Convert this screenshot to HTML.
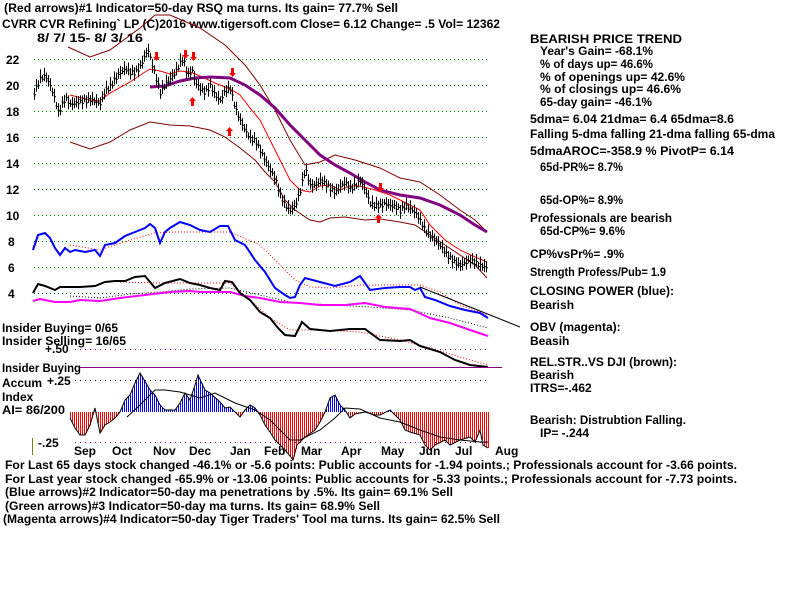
<!DOCTYPE html>
<html><head><meta charset="utf-8"><style>
html,body{margin:0;padding:0;background:#fff;width:800px;height:600px;overflow:hidden}
svg text{font-family:"Liberation Sans",sans-serif;font-weight:bold;font-size:12px;fill:#000}
</style></head><body>
<svg id="s" width="800" height="600" xmlns="http://www.w3.org/2000/svg">
<g id="grid" stroke="#008000" stroke-dasharray="1,3" stroke-width="1"></g>
<text x="4" y="12" textLength="394" lengthAdjust="spacingAndGlyphs">(Red arrows)#1 Indicator=50-day RSQ ma turns.  Its gain= 77.7% Sell</text>
<text x="2" y="28" textLength="498" lengthAdjust="spacingAndGlyphs">CVRR   CVR Refining` LP   (C)2016 www.tigersoft.com     Close=  6.12  Change= .5 Vol= 12362</text>
<text x="37" y="42" textLength="106" lengthAdjust="spacingAndGlyphs">8/ 7/ 15- 8/ 3/ 16</text>
<g id="yl"></g>
<g id="plot"></g>
<g font-size="12">
<text x="530" y="43" textLength="152" lengthAdjust="spacingAndGlyphs">BEARISH PRICE TREND</text>
<text x="540" y="55" textLength="113" lengthAdjust="spacingAndGlyphs">Year's Gain= -68.1%</text>
<text x="540" y="68" textLength="113" lengthAdjust="spacingAndGlyphs">% of days up= 46.6%</text>
<text x="540" y="81" textLength="145" lengthAdjust="spacingAndGlyphs">% of openings up= 42.6%</text>
<text x="540" y="93" textLength="141" lengthAdjust="spacingAndGlyphs">% of closings up= 46.6%</text>
<text x="540" y="106" textLength="112" lengthAdjust="spacingAndGlyphs">65-day gain= -46.1%</text>
<text x="530" y="123" textLength="204" lengthAdjust="spacingAndGlyphs">5dma= 6.04 21dma= 6.4 65dma=8.6</text>
<text x="530" y="138" textLength="245" lengthAdjust="spacingAndGlyphs">Falling 5-dma  falling 21-dma  falling 65-dma</text>
<text x="530" y="155" textLength="204" lengthAdjust="spacingAndGlyphs">5dmaAROC=-358.9 %  PivotP= 6.14</text>
<text x="540" y="171" textLength="83" lengthAdjust="spacingAndGlyphs">65d-PR%= 8.7%</text>
<text x="540" y="204" textLength="83" lengthAdjust="spacingAndGlyphs">65d-OP%= 8.9%</text>
<text x="530" y="222" textLength="142" lengthAdjust="spacingAndGlyphs">Professionals are bearish</text>
<text x="540" y="235" textLength="85" lengthAdjust="spacingAndGlyphs">65d-CP%= 9.6%</text>
<text x="530" y="258" textLength="94" lengthAdjust="spacingAndGlyphs">CP%vsPr%=  .9%</text>
<text x="530" y="276" textLength="136" lengthAdjust="spacingAndGlyphs">Strength Profess/Pub= 1.9</text>
<text x="530" y="295" textLength="144" lengthAdjust="spacingAndGlyphs">CLOSING POWER (blue):</text>
<text x="530" y="309">Bearish</text>
<text x="530" y="331">OBV (magenta):</text>
<text x="530" y="345">Beasih</text>
<text x="530" y="366" textLength="147" lengthAdjust="spacingAndGlyphs">REL.STR..VS DJI (brown):</text>
<text x="530" y="379">Bearish</text>
<text x="530" y="392">ITRS=-.462</text>
<text x="530" y="424" textLength="156" lengthAdjust="spacingAndGlyphs">Bearish: Distrubtion Falling.</text>
<text x="540" y="437">IP= -.244</text>
</g>
<text x="2" y="332" textLength="116" lengthAdjust="spacingAndGlyphs">Insider Buying= 0/65</text>
<text x="2" y="345" textLength="124" lengthAdjust="spacingAndGlyphs">Insider Selling= 16/65</text>
<text x="45" y="353">+.50</text>
<text x="2" y="372" textLength="79" lengthAdjust="spacingAndGlyphs">Insider Buying</text>
<text x="2" y="387">Accum</text>
<text x="47" y="385">+.25</text>
<text x="2" y="401">Index</text>
<text x="2" y="414" textLength="63" lengthAdjust="spacingAndGlyphs">AI= 86/200</text>
<text x="38" y="447">-.25</text>
<line x1="32.5" y1="438" x2="32.5" y2="455" stroke="#808000"/>
<g id="mon"></g>
<text x="5" y="469" textLength="732" lengthAdjust="spacingAndGlyphs">For Last 65 days stock changed -46.1% or -5.6 points:  Public accounts for -1.94 points.;  Professionals account for -3.66 points.</text>
<text x="5" y="483" textLength="732" lengthAdjust="spacingAndGlyphs">For Last year stock changed -65.9% or -13.06 points:  Public accounts for -5.33 points.;  Professionals account for -7.73 points.</text>
<text x="5" y="496" textLength="448" lengthAdjust="spacingAndGlyphs">(Blue arrows)#2 Indicator=50-day ma penetrations by .5%. Its gain= 69.1% Sell</text>
<text x="5" y="510" textLength="375" lengthAdjust="spacingAndGlyphs">(Green arrows)#3 Indicator=50-day ma turns. Its gain= 68.9% Sell</text>
<text x="3" y="523" textLength="497" lengthAdjust="spacingAndGlyphs">(Magenta arrows)#4 Indicator=50-day Tiger Traders' Tool ma turns. Its gain= 62.5% Sell</text>
</svg>
<script>
const NS="http://www.w3.org/2000/svg",P=document.getElementById('plot');
function el(t,a,par){const e=document.createElementNS(NS,t);for(const k in a)e.setAttribute(k,a[k]);(par||P).appendChild(e);return e;}
function pl(pts,a){el('polyline',Object.assign({points:pts.map(p=>p.join(',')).join(' '),fill:'none'},a));}
function interp(pts,x){for(let i=0;i<pts.length-1;i++){if(x>=pts[i][0]&&x<=pts[i+1][0]){const t=(x-pts[i][0])/(pts[i+1][0]-pts[i][0]);return pts[i][1]+t*(pts[i+1][1]-pts[i][1]);}}return pts[pts.length-1][1];}
// grid
const G=document.getElementById('grid'),YL=document.getElementById('yl');
[22,20,18,16,14,12,10,8,6,4].forEach(v=>{const y=59+(22-v)*13;el('line',{x1:34,x2:490,y1:y+.5,y2:y+.5},G);const t=el('text',{x:v>=10?6:8,y:y+5},YL);t.textContent=v;});
[[349,'#800080'],[380,'#000'],[442,'#800080']].forEach(([y,c])=>el('line',{x1:75,x2:490,y1:y+.5,y2:y+.5,stroke:c,'stroke-dasharray':'1,4'}));
// bands
pl([[68,47],[90,57],[110,50],[140,28],[155,15],[170,15],[200,28],[225,45],[245,65],[260,85],[275,110],[290,140],[305,165],[320,162],[335,155],[355,160],[380,168],[400,178],[420,182],[440,195],[460,210],[475,220],[487,232]],{stroke:'#800000'});
pl([[70,142],[90,149],[110,142],[130,130],[150,122],[170,125],[190,126],[210,130],[225,137],[240,148],[255,160],[265,172],[275,182],[285,200],[295,210],[310,220],[320,222],[330,218],[345,217],[365,220],[380,219],[400,222],[415,225],[430,235],[445,245],[460,255],[475,265],[487,278]],{stroke:'#800000'});
pl([[70,95],[90,100],[100,101],[110,93],[130,82],[145,72],[150,69],[160,71],[170,74],[180,71],[190,72],[200,76],[215,83],[230,89],[240,95],[250,108],[260,120],[270,140],[280,160],[290,180],[300,190],[310,192],[320,186],[330,185],[340,190],[350,186],[360,186],[375,190],[390,195],[400,200],[410,205],[420,210],[430,225],[445,240],[460,250],[475,257],[487,262]],{stroke:'#ff0000'});
pl([[150,87],[165,86],[180,81],[195,78],[210,77],[230,78],[245,85],[260,95],[275,108],[290,125],[305,140],[320,155],[335,165],[350,173],[365,182],[380,190],[400,195],[420,198],[440,205],[460,215],[475,225],[487,232]],{stroke:'#800080','stroke-width':3});
// price bars
const pr=[[34,92],[40,78],[45,75],[50,85],[55,100],[58,112],[62,104],[65,97],[70,104],[80,101],[90,99],[100,103],[105,90],[110,86],[115,78],[120,72],[125,68],[130,72],[135,72],[140,66],[145,54],[148,50],[153,68],[160,92],[165,84],[170,78],[175,72],[180,62],[183,58],[187,75],[192,70],[195,82],[200,88],[205,92],[210,85],[215,95],[220,100],[225,90],[230,88],[233,100],[236,110],[240,120],[245,130],[250,138],[255,140],[260,150],[265,160],[270,170],[275,178],[280,195],[285,205],[290,210],[295,205],[300,190],[305,168],[310,185],[315,185],[320,180],[325,183],[330,188],[335,192],[340,186],[345,182],[350,188],[355,185],[360,180],[365,190],[370,203],[375,205],[380,205],[385,203],[390,205],[395,206],[400,210],[405,205],[410,208],[415,212],[420,220],[425,230],[430,235],[435,240],[440,245],[445,252],[450,258],[455,262],[460,265],[465,262],[470,260],[475,262],[480,265],[487,267]];
let d='';for(let x=34;x<=487;x+=2){const y=interp(pr,x)+Math.sin(x*1.7)*2;const h=3+Math.abs(Math.sin(x*0.9))*4;d+=`M${x+.5},${(y-h).toFixed(1)}V${(y+h).toFixed(1)}M${x-.5},${y.toFixed(1)}h1M${x+.5},${(y+1).toFixed(1)}h1.5`;}
el('path',{d:d,stroke:'#000','stroke-width':1,fill:'none'});
// red arrows
function arrow(x,y,down){const s=down?1:-1;el('path',{d:`M${x-1},${y-6*s}h3v${5*s}h2l-3.5,${4*s}l-3.5,${-4*s}h2z`,fill:'#f00'});}
[[156,58],[185,56],[193,58],[232,74],[380,189]].forEach(a=>arrow(a[0],a[1],true));
[[192,100],[229,130],[378,217]].forEach(a=>arrow(a[0],a[1],false));
// CP blue
pl([[70,245],[100,250],[130,240],[155,233],[175,232],[205,232],[230,232],[260,245],[280,265],[295,280],[310,287],[330,288],[360,285],[390,285],[420,285],[440,292],[460,305],[488,315]],{stroke:'#f00','stroke-dasharray':'1,2'});
pl([[33,250],[38,235],[45,233],[50,238],[55,248],[60,255],[65,248],[70,252],[75,250],[85,252],[95,250],[100,256],[105,245],[115,243],[125,236],[135,232],[145,228],[150,224],[155,228],[160,243],[165,232],[170,228],[180,222],[190,225],[200,230],[210,232],[220,226],[228,226],[235,240],[245,245],[255,260],[265,272],[275,288],[285,295],[290,298],[295,297],[300,285],[305,278],[320,282],[335,286],[350,282],[360,276],[370,290],[385,288],[400,287],[410,287],[415,290],[420,288],[425,297],[435,300],[450,306],[465,310],[480,313],[488,318]],{stroke:'#0000ff','stroke-width':2});
el('line',{x1:420,y1:287,x2:520,y2:327,stroke:'#000'});
// OBV
pl([[70,296],[100,298],[130,294],[160,292],[190,289],[230,288],[260,295],[290,302],[330,305],[370,307],[410,310],[450,318],[488,328]],{stroke:'#000','stroke-dasharray':'1,2'});
pl([[33,301],[40,299],[55,302],[70,302],[80,300],[100,301],[120,298],[145,295],[170,292],[190,291],[200,292],[230,292],[245,296],[260,298],[280,302],[300,303],[320,305],[345,305],[365,303],[385,307],[410,309],[430,318],[450,323],[470,330],[488,336]],{stroke:'#ff00ff','stroke-width':2});
// RS black
pl([[120,282],[160,283],[200,283],[230,283],[250,300],[270,318],[290,330],[320,330],[360,332],[400,340],[430,348],[460,357],[488,365]],{stroke:'#f00','stroke-dasharray':'1,2'});
pl([[33,293],[38,284],[45,286],[55,290],[60,287],[65,287],[80,287],[95,286],[105,282],[115,281],[125,281],[135,277],[145,276],[155,288],[165,283],[180,279],[190,283],[200,285],[210,288],[220,290],[225,281],[232,282],[240,293],[250,300],[260,312],[270,318],[278,328],[285,335],[295,336],[302,322],[310,329],[330,331],[350,329],[365,329],[380,340],[400,341],[410,340],[420,346],[440,352],[455,360],[470,365],[488,367]],{stroke:'#000','stroke-width':2});
el('line',{x1:80,y1:367.5,x2:502,y2:367.5,stroke:'#800080'});
// AI histogram
const ai=[[70,418],[75,428],[80,435],[85,435],[90,425],[95,408],[100,433],[105,425],[110,422],[115,418],[120,412],[125,400],[130,395],[135,383],[140,373],[143,378],[150,390],[155,395],[160,405],[165,410],[175,410],[180,403],[185,393],[190,400],[195,385],[198,375],[205,390],[210,393],[220,402],[225,408],[230,407],[240,417],[245,410],[250,405],[255,408],[260,415],[265,425],[270,432],[275,440],[280,445],[285,450],[290,456],[293,460],[297,445],[305,437],[315,430],[320,422],[325,412],[330,398],[335,395],[340,405],[345,410],[350,418],[355,414],[365,412],[375,415],[380,415],[390,410],[400,420],[405,430],[410,432],[420,435],[425,445],[430,450],[435,445],[445,440],[450,445],[460,440],[470,437],[475,442],[480,430],[483,445],[488,448]];
let db='',dr='';for(let x=70;x<=488;x+=2){const y=interp(ai,x);if(y<412)db+=`M${x+.5},412V${y.toFixed(1)}`;else dr+=`M${x+.5},412V${y.toFixed(1)}`;}
el('path',{d:db,stroke:'#0000ff',fill:'none'});el('path',{d:dr,stroke:'#ff0000',fill:'none'});
pl(ai,{stroke:'#000'});
pl([[127,417],[140,405],[155,390],[165,390],[180,392],[200,398],[215,393],[235,403],[255,410],[270,420],[280,430],[290,440],[300,440],[320,430],[335,418],[345,408],[360,409],[380,418],[400,422],[420,430],[440,437],[460,440],[480,442],[488,442]],{stroke:'#000'});
// months
const M=document.getElementById('mon');
[['Sep',74],['Oct',112],['Nov',153],['Dec',189],['Jan',230],['Feb',264],['Mar',301],['Apr',341],['May',381],['Jun',419],['Jul',455],['Aug',495]].forEach(([t,x])=>{const e=el('text',{x:x,y:455},M);e.textContent=t;});
</script>
</body></html>
